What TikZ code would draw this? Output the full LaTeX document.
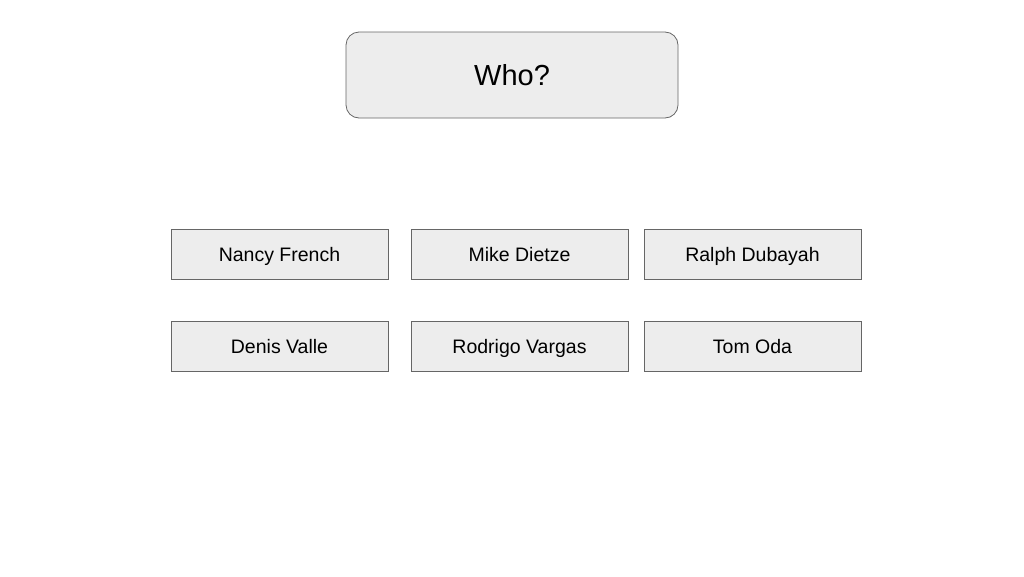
\documentclass[tikz,border=0pt]{standalone}
\usepackage{fontspec}
\setmainfont{Liberation Sans}
\begin{document}
\begin{tikzpicture}[x=1pt,y=-1pt,
  box/.style={draw=black!60,fill=black!7,line width=0.8pt,minimum width=217pt,minimum height=50pt,inner sep=0pt,text height=16pt,text depth=2pt,font=\fontsize{19.5pt}{23pt}\selectfont},
  titlebox/.style={draw=black!60,fill=black!7,line width=0.8pt,rounded corners=13pt,minimum width=332pt,minimum height=86pt,inner sep=0pt,text height=24pt,text depth=3pt,font=\fontsize{29pt}{34pt}\selectfont}]
\useasboundingbox (0,0) rectangle (1024,576);
\node[titlebox] (who) at (512,75) {Who?};
\node[box] (nancy) at (279.5,254) {Nancy French};
\node[box] (mike) at (519.5,254) {Mike Dietze};
\node[box] (ralph) at (752.5,254) {Ralph Dubayah};
\node[box] (denis) at (279.5,346) {Denis Valle};
\node[box] (rodrigo) at (519.5,346) {Rodrigo Vargas};
\node[box] (tom) at (752.5,346) {Tom Oda};
\end{tikzpicture}
\end{document}
